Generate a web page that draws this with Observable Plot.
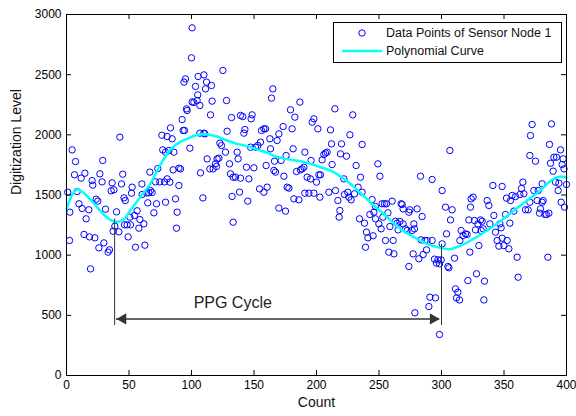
<!DOCTYPE html>
<html><head><meta charset="utf-8">
<script src="https://cdn.jsdelivr.net/npm/d3@7"></script>
<script src="https://cdn.jsdelivr.net/npm/@observablehq/plot@0.6"></script>
<style>
html,body{margin:0;padding:0;background:#fff;}
#chart{position:relative;width:576px;height:416px;}
svg{font-family:"Liberation Sans",Arial,sans-serif;}
</style></head><body><div id="chart"></div>
<script>
// scatter samples: count (x) and digitization level (y)
const sampleCount = [1,2.7,2.4,4.5,7.2,6.4,8.5,10,11.7,12.5,14.7,14,15.7,17.9,18.4,19.2,20.5,21,22.7,23.7,25,26.7,25.9,28.5,29,29.9,31.2,33.3,34.4,36.5,35.7,37.9,37.3,38.7,40,41.9,42.7,44,45,46,47,46.4,48.5,49.3,50.7,51.2,52.5,52,54.4,55.2,56.5,57.9,58.7,60.3,60.5,61.9,62.7,64,65,65.9,66.7,67.2,68.5,69.9,71.2,72,73,74.7,76.3,77,78.4,
80.5,79.2,84.5,83.2,81.9,85.3,85.9,79.2,82.7,80.5,87.2,89.9,89.9,91.2,88.5,88,92.5,93.3,94.4,95.2,96,96.5,94,98.7,100.5,100,100.5,101.9,103.2,105,104.5,106.7,105.3,109.9,111.2,112,116,116.5,115.2,106.7,109.9,110.7,107.2,109.1,112.5,114.7,117.3,119.2,120,120.5,121.9,122.7,124,125.1,127.2,128.5,128,130.4,132,131.2,133.3,135.2,133.3,132.5,136.5,137.3,138.4,139.2,139.2,141,141.9,142.7,144,145,145.9,147.7,148.5,147.2,149.9,151.2,153.1,154.4,155.2,156,157.9,157.9,
159.2,159.7,160.5,162.7,163.2,164,165.1,165.9,166.4,167.2,168.5,169.9,171.7,173.3,173.9,175.7,176.5,177.9,169.9,175.2,179.2,180.5,182.7,181.3,181.9,184,185.9,186.7,187.2,188.5,189.9,190.7,190.7,192.5,193.9,195.2,195.7,196.5,197.9,197.9,200,201.1,201.9,202.7,203.2,204.5,205.9,207.2,208.5,209.9,211.2,212,212.5,214.7,215.2,217.1,218.7,218.1,219.2,220,221.9,222.4,224,225,225.9,226.7,227.7,229,230.4,231.7,233.3,234.4,235.2,236.5,236.5,238.4,
240,241.1,239.2,245.3,242.7,244.5,245.9,247.2,247.2,249.1,250.7,249.9,251.7,252.5,253.1,254.4,255.2,256,257.1,257.9,258.7,260.5,261.3,261.9,263.2,264.5,265.3,266.7,267.7,268.5,269.3,269.3,271.2,272.5,273.9,273.9,274.7,276.5,277.9,277.3,278.4,278.7,280.5,281.9,283.2,283.7,284.5,285.3,286.7,288,288.5,289.9,290.7,292.5,292.5,294.4,295.2,296,297.1,298.4,298.4,299.7,300.5,300.5,303.2,304,305.1,305.9,306.7,307.2,308.5,310.4,311.2,312,313.1,314.4,314.7,315.7,317.3,
319.2,320.5,321.1,322.7,321.9,323.2,323.7,325.3,326.4,327.2,328,329.1,329.9,331.2,331.7,332.5,333.3,333.9,334.4,336.5,337.9,338.7,341.1,341.9,343.2,344.5,345.9,346.7,347.7,348.5,348.5,349.9,351.2,352,352.5,353.9,354.7,355.2,356.5,357.9,359.2,360.5,361.3,362.7,364,365.1,365.9,367.2,369.3,370.7,371.2,372.5,370.7,373.9,375.2,376.5,377.3,378.4,379.2,380.5,380.5,381.3,382.7,384,385.1,385.9,386.4,387.2,388,389.3,389.9,391.2,392,393.3,393.9,395.2,395.7,396.5,397.3,398.4,400,398];
const sampleLevel = [1523,1357,1122,1875,1778,1668,1529,1427,1640,1388,1681,1172,1302,1377,1152,886,1620,1582,1144,1465,1449,1676,1061,1609,1787,1102,1382,1025,1044,1601,1535,1543,1199,1241,1360,1194,1981,1592,1673,1476,1454,1252,1252,1152,1316,1252,1565,1515,1330,1066,1369,1224,1296,1592,1504,1260,1083,1518,1435,1518,1690,1537,1521,1352,1609,1427,1720,1609,1997,1875,1609,
1986,1856,1967,2058,1870,1709,1856,1440,1607,1634,1468,1579,1723,1717,1357,1224,2127,2036,2036,2465,2216,2202,2438,1889,2889,2640,2274,2269,2402,2332,2285,2244,2485,2498,2382,2438,2410,2280,2166,2014,2014,2008,1684,1476,1800,1717,1717,1759,1737,1800,1806,1931,1911,2535,1856,2030,2285,1759,2144,1676,1648,1648,1274,1488,1856,1800,1524,1640,2161,2152,2014,2044,1731,1449,1634,2133,2166,1897,1726,1897,1911,1551,1939,2036,2050,1523,
2050,1745,1565,1967,1884,2305,2382,1704,1781,1690,1953,2008,1787,2069,1656,1828,1565,1557,1391,1366,2208,2050,2147,1884,1468,1695,1460,2272,1709,1717,1731,1856,1515,1648,1515,1634,1787,2105,2133,1515,1607,2050,1668,1482,1668,1792,1837,1848,1856,1523,2041,1925,1753,2216,1537,1454,1371,1316,1842,1925,1634,1504,1823,1523,1482,2000,1460,2166,1510,1745,1565,1302,1648,1920,1523,1266,
1191,1144,1066,1161,1338,1462,1357,1302,1404,1759,1656,1260,1219,1427,1316,1427,1122,1427,1352,1025,1238,1449,1122,1011,1282,1266,1210,1280,1427,1421,1385,1260,1219,1205,1357,906,1377,1205,1260,1011,1219,521,1385,970,1656,1127,1321,1005,1122,1044,1122,573,651,1122,1629,967,645,934,961,928,341,961,1537,1094,1399,1177,906,895,1870,1293,1377,975,720,645,692,628,1122,1205,1163,
1177,1172,789,1025,1293,1399,1468,1482,1288,1210,845,1260,1080,1293,1205,1282,1219,628,784,1454,1413,1260,1579,1330,1191,1122,1075,1260,1227,1571,1141,1080,1338,1474,1122,1053,1266,1454,1496,1366,1487,983,817,1504,1554,1607,1510,1377,1377,1440,1994,2086,1828,1537,1781,1454,1537,1349,1385,1593,1440,1454,1338,1338,983,1349,1920,1764,2091,1698,1814,1607,1814,1537,1598,1875,1440,1753,1800,1399,1587,1717];

// polynomial curve read along its path
const curveCount = [0,4,8.5,14,22,30,38,45,51,59,67,75,83,90,96.5,104.5,112.5,120.5,128.5,136.5,144.5,152.5,160.5,166,176.5,187,195,203,211,219,227,235,243,256.5,267,278,288.5,299,307,315,323,336.5,347,358,368.5,379,387,393,398,400];
const curveLevel = [1380,1490,1548,1515,1430,1335,1280,1292,1371,1482,1593,1750,1875,1935,1967,1998,2003,1986,1953,1925,1906,1878,1852,1825,1798,1781,1759,1731,1704,1656,1593,1518,1440,1316,1219,1150,1094,1061,1050,1078,1120,1205,1282,1371,1454,1537,1615,1648,1652,1640];

const xTicks = [0,50,100,150,200,250,300,350,400];
const yTicks = [0,500,1000,1500,2000,2500,3000];

// PPG cycle annotation
const cycleBounds = [38.5, 300];
const cycleTops = [1300, 1090];
const cycleBottom = 415;
const arrowLevel = 470;
const arrowTips = [40, 298.5];
const cycleLabel = "PPG Cycle";
const cycleLabelCount = 133;
const cycleLabelLevel = 600;

const legendLabels = ["Data Points of Sensor Node 1", "Polynomial Curve"];

const W = 576, H = 416, mT = 14, mB = 41, mL = 66, mR = 10;
const plotH = H - mT - mB, plotW = W - mL - mR;
const ink = "#333";

const svg = Plot.plot({
  width: W, height: H,
  marginTop: mT, marginBottom: mB, marginLeft: mL, marginRight: mR,
  style: {fontFamily: "'Liberation Sans', Arial, sans-serif", fontSize: "12px", color: "#000", background: "#fff"},
  x: {domain: [0, 400]},
  y: {domain: [0, 3000]},
  marks: [
    Plot.dot(sampleCount, {x: sampleCount, y: sampleLevel, r: 3.2, stroke: "#0000ff", strokeWidth: 1, fill: "none"}),
    Plot.line(curveCount, {x: curveCount, y: curveLevel, stroke: "#00ffff", strokeWidth: 2.5, curve: "catmull-rom"}),
    Plot.ruleX(cycleBounds, {x: d => d, y1: (d, i) => cycleTops[i], y2: cycleBottom, stroke: ink, strokeWidth: 1}),
    Plot.ruleY([arrowLevel], {y: d => d, x1: arrowTips[0], x2: arrowTips[1], stroke: ink, strokeWidth: 1.5}),
    Plot.dot([arrowTips[0]], {x: d => d, y: arrowLevel, symbol: "triangle", r: 4.2, fill: ink, stroke: null, rotate: -90, dx: 6.5}),
    Plot.dot([arrowTips[1]], {x: d => d, y: arrowLevel, symbol: "triangle", r: 4.2, fill: ink, stroke: null, rotate: 90, dx: -6.5}),
    Plot.text([cycleLabel], {x: cycleLabelCount, y: cycleLabelLevel, text: d => d, fontSize: 16, fill: "#222"}),
    Plot.frame({stroke: "#000", strokeWidth: 1}),
    Plot.tickX(xTicks, {x: d => d, insetTop: plotH - 5, stroke: "#000"}),
    Plot.tickX(xTicks, {x: d => d, insetBottom: plotH - 5, stroke: "#000"}),
    Plot.tickY(yTicks, {y: d => d, insetRight: plotW - 5, stroke: "#000"}),
    Plot.tickY(yTicks, {y: d => d, insetLeft: plotW - 5, stroke: "#000"}),
    Plot.axisX({ticks: xTicks, tickSize: 0, tickPadding: 5, label: null, tickFormat: d => String(d)}),
    Plot.axisY({ticks: yTicks, tickSize: 0, tickPadding: 5, label: null, tickFormat: d => String(d)}),
    Plot.text(["Count"], {frameAnchor: "bottom", dy: 31, text: d => d, fontSize: 14, fill: "#111"}),
    Plot.text(["Digitization Level"], {frameAnchor: "left", dx: -50, rotate: -90, text: d => d, fontSize: 14, fill: "#111"})
  ]
});

// legend box inside the plot (top-right), as in the reference
const sel = d3.select(svg);
const lg = sel.append("g").attr("font-family", "'Liberation Sans', Arial, sans-serif").attr("font-size", 12.5).attr("text-anchor", "start");
lg.append("rect").attr("x", 333.5).attr("y", 22.5).attr("width", 228).attr("height", 40).attr("fill", "#fff").attr("stroke", "#000");
lg.append("circle").attr("cx", 362).attr("cy", 33).attr("r", 3.2).attr("fill", "none").attr("stroke", "#0000ff");
lg.append("line").attr("x1", 342).attr("x2", 382).attr("y1", 51).attr("y2", 51).attr("stroke", "#00ffff").attr("stroke-width", 2.5);
legendLabels.forEach((t, i) => {
  lg.append("text").attr("x", 386).attr("y", 33 + i * 18).attr("dy", "0.35em").attr("fill", "#111").attr("text-anchor", "start").text(t);
});

document.getElementById("chart").appendChild(svg);
</script></body></html>
